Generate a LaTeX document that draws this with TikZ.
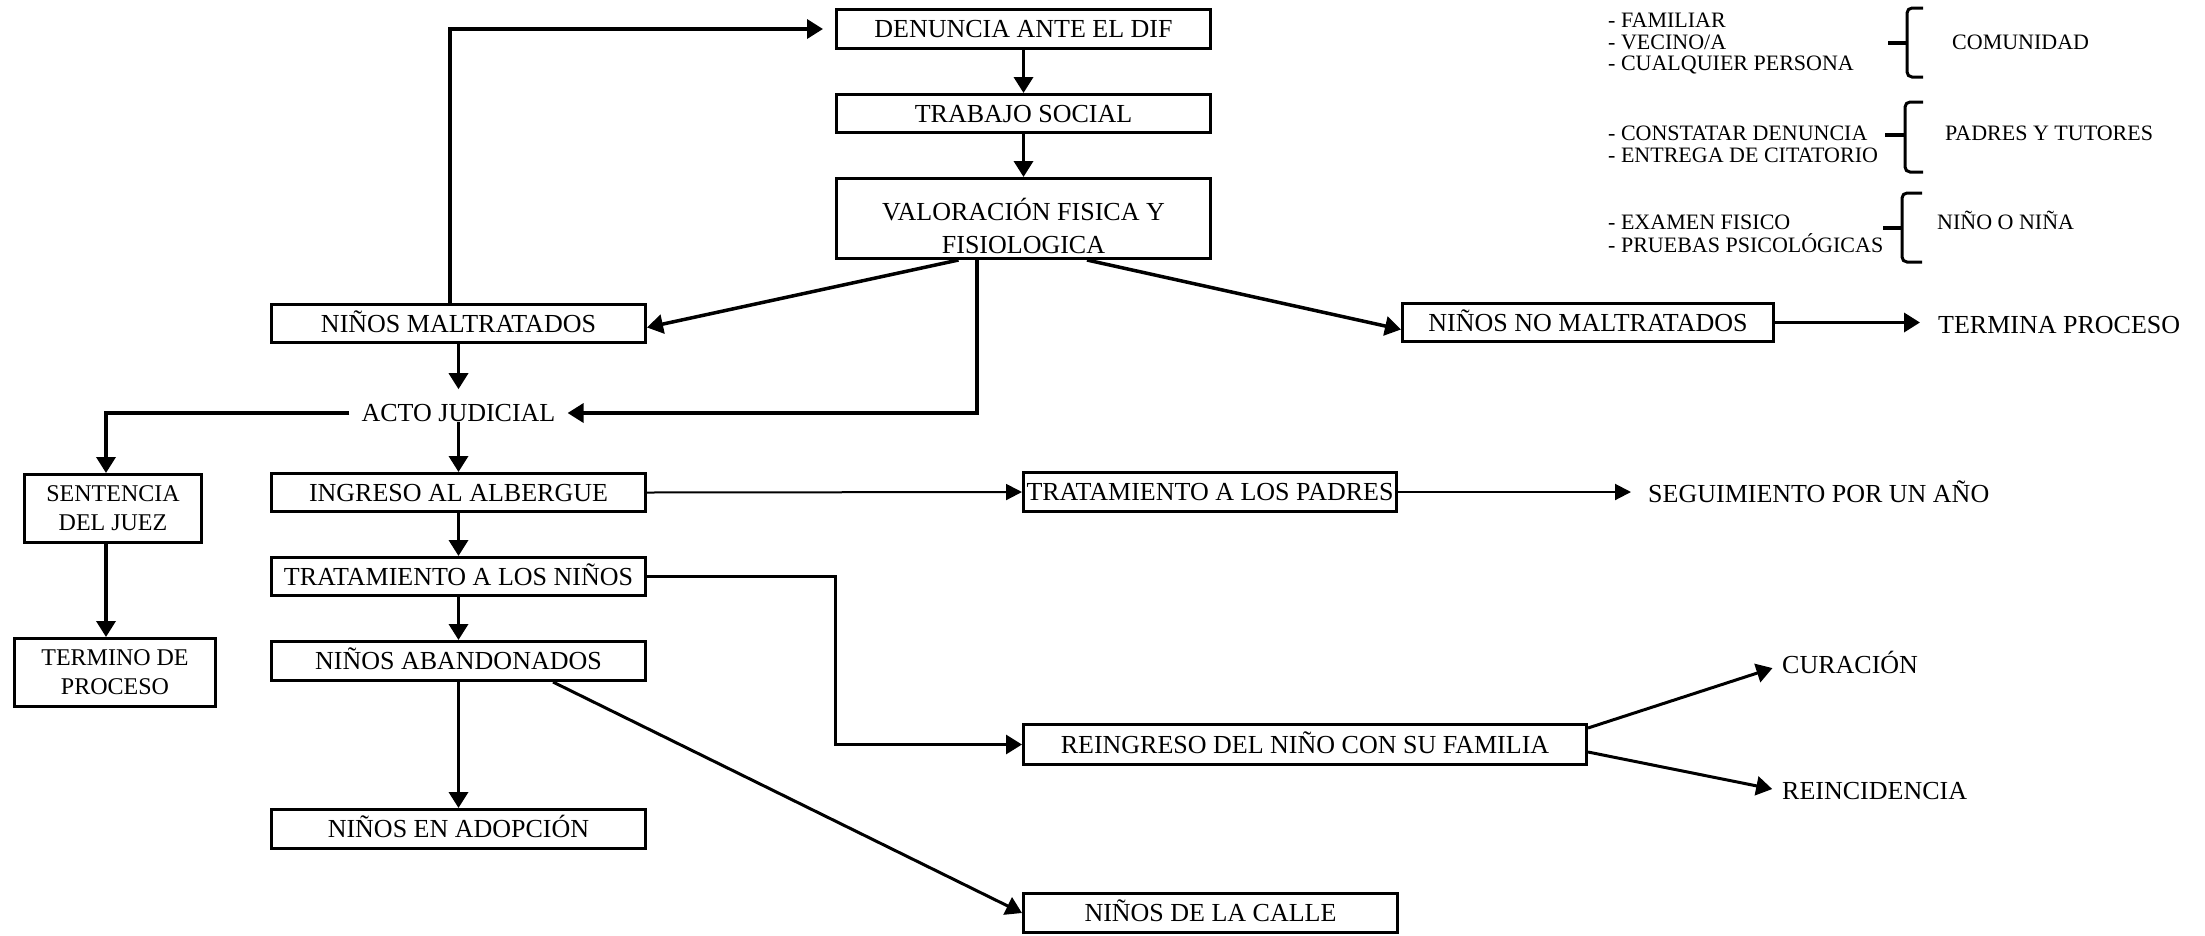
\documentclass[tikz,border=0pt]{standalone}
\usepackage{fontspec}
\setmainfont{Liberation Serif}
\usetikzlibrary{arrows.meta}
\newcommand{\mainf}{\fontsize{26}{31}\selectfont}
\newcommand{\sidef}{\fontsize{24}{29}\selectfont}
\newcommand{\legf}{\fontsize{22}{26}\selectfont}
\begin{document}
\begin{tikzpicture}[x=1pt,y=-1pt,
  box/.style={draw, line width=3pt, inner sep=0pt, font=\mainf, text height=17.2pt, text depth=0pt},
  boxtwo/.style={draw, line width=3pt, inner sep=0pt, font=\sidef, align=center},
  txt/.style={inner sep=0pt, font=\mainf, text height=17.2pt, text depth=0pt},
  leg/.style={inner sep=0pt, font=\legf, text height=14.5pt, text depth=0pt, anchor=west},
  arr/.style={line width=3.5pt, -{Triangle[length=16pt,width=19pt]}},
  thinarr/.style={line width=2pt, -{Triangle[length=16pt,width=16pt]}},
  brc/.style={line width=3pt, rounded corners=5pt},
  brctip/.style={line width=4pt}
]
\path[fill=white] (0,0) rectangle (2205,935);
\useasboundingbox (0,0) rectangle (2205,935);

% main column top
\node[box, minimum width=374pt, minimum height=39pt] (den) at (1023.5,29) {DENUNCIA ANTE EL DIF};
\node[box, minimum width=374pt, minimum height=38pt] (trab) at (1023.5,113.5) {TRABAJO SOCIAL};
\node[draw, line width=3pt, inner sep=0pt, minimum width=374pt, minimum height=80pt] (val) at (1023.5,218.5) {};
\node[txt] (valA) at (1023.5,212) {VALORACIÓN FISICA Y};
\node[txt] (valB) at (1023.5,245) {FISIOLOGICA};

\node[box, minimum width=374pt, minimum height=38pt] (nm) at (458.5,323.5) {NIÑOS MALTRATADOS};
\node[box, minimum width=371pt, minimum height=38pt] (nnm) at (1588,322.5) {NIÑOS NO MALTRATADOS};
\node[txt, anchor=west] (ter) at (1938,325) {TERMINA PROCESO};

\node[txt, inner xsep=12pt] (acto) at (458.5,413) {ACTO JUDICIAL};

\node[boxtwo, minimum width=177pt, minimum height=68pt] (sent) at (113,508.5) {SENTENCIA\\DEL JUEZ};
\node[boxtwo, minimum width=201pt, minimum height=68pt] (term) at (115,672.5) {TERMINO DE\\PROCESO};

\node[box, minimum width=374pt, minimum height=38pt] (ing) at (458.5,492.5) {INGRESO AL ALBERGUE};
\node[box, minimum width=374pt, minimum height=38pt] (tn) at (458.5,576.5) {TRATAMIENTO A LOS NIÑOS};
\node[box, minimum width=374pt, minimum height=39pt] (ab) at (458.5,661) {NIÑOS ABANDONADOS};
\node[box, minimum width=374pt, minimum height=39pt] (adop) at (458.5,829) {NIÑOS EN ADOPCIÓN};

\node[box, minimum width=373pt, minimum height=39pt] (tp) at (1210,492) {TRATAMIENTO A LOS PADRES};
\node[txt, anchor=west] (seg) at (1648,494) {SEGUIMIENTO POR UN AÑO};

\node[box, minimum width=563pt, minimum height=40pt] (rein) at (1305,744.5) {REINGRESO DEL NIÑO CON SU FAMILIA};
\node[txt, anchor=west] (cur) at (1782,665) {CURACIÓN};
\node[txt, anchor=west] (reinc) at (1782,791) {REINCIDENCIA};

\node[box, minimum width=374pt, minimum height=39pt] (calle) at (1210.5,913) {NIÑOS DE LA CALLE};

% legend
\node[leg] (l1) at (1608,20) {- FAMILIAR};
\node[leg] (l2) at (1608,42) {- VECINO/A};
\node[leg] (l3) at (1608,63) {- CUALQUIER PERSONA};
\node[leg] (l4) at (1608,133) {- CONSTATAR DENUNCIA};
\node[leg] (l5) at (1608,155) {- ENTREGA DE CITATORIO};
\node[leg] (l6) at (1608,222) {- EXAMEN FISICO};
\node[leg] (l7) at (1608,245) {- PRUEBAS PSICOLÓGICAS};
\node[leg] (g1) at (1952,42) {COMUNIDAD};
\node[leg] (g2) at (1945,133) {PADRES Y TUTORES};
\node[leg] (g3) at (1937,222) {NIÑO O NIÑA};

% braces
\draw[brc] (1923,8) -- (1907,8) -- (1907,77) -- (1923,77);
\draw[brctip] (1888,43) -- (1907,43);
\draw[brc] (1923,102) -- (1905,102) -- (1905,172) -- (1923,172);
\draw[brctip] (1885,135) -- (1905,135);
\draw[brc] (1922,193) -- (1902,193) -- (1902,262) -- (1922,262);
\draw[brctip] (1883,228) -- (1902,228);

% connectors
\draw[arr, shorten >=12pt] ([xshift=-8.5pt]nm.north) |- (den.west);
\draw[arr] (den.south) -- (trab.north);
\draw[arr] (trab.south) -- (val.north);
\draw[arr] ([xshift=-65pt]val.south) -- ([yshift=-4pt]nm.east);
\draw[arr] ([xshift=-46.5pt]val.south) |- (acto.east);
\draw[arr] ([xshift=63.5pt]val.south) -- ([yshift=-7pt]nnm.west);
\draw[arr, shorten >=15pt] (nm.south) -- (acto.north);
\draw[arr] (acto.west) -| ([xshift=-7pt]sent.north);
\draw[arr] (acto.south) -- (ing.north);
\draw[arr] ([xshift=-7pt]sent.south) -- ([xshift=-9pt]term.north);
\draw[thinarr] (ing.east) -- (tp.west);
\draw[thinarr, shorten >=17pt] (tp.east) -- (tp.east -| seg.west);
\draw[arr] (ing.south) -- (tn.north);
\draw[arr, line width=3pt] (tn.east) -- ++(188,0) |- (rein.west);
\draw[arr] (tn.south) -- (ab.north);
\draw[arr] (ab.south) -- (adop.north);
\draw[arr, line width=3pt] ([xshift=94.5pt]ab.south) -- (calle.west);
\draw[arr, shorten >=18pt] (nnm.east) -- (nnm.east -| ter.west);
\draw[arr, line width=3pt, shorten >=10pt] ([yshift=16.5pt]rein.east) -- (cur.west);
\draw[arr, line width=3pt, shorten >=10pt] ([yshift=-7.5pt]rein.east) -- (reinc.west);
\end{tikzpicture}
\end{document}
